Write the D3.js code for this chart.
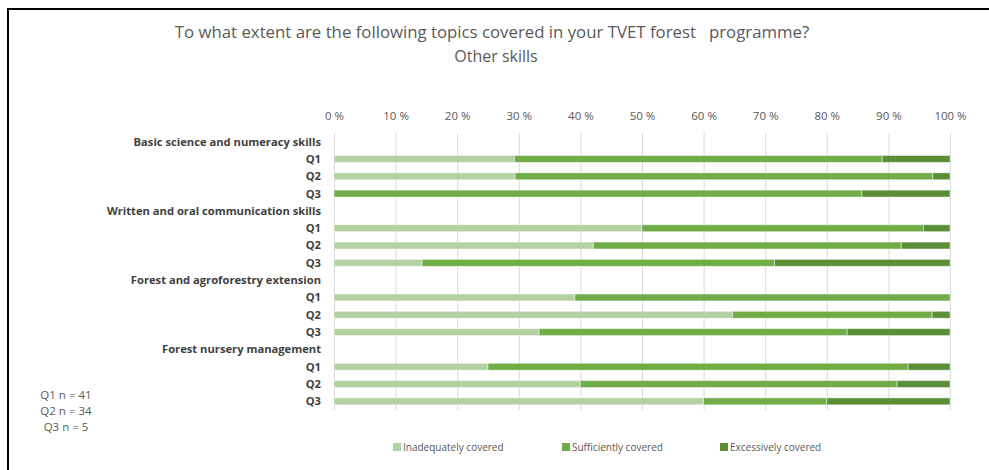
<!DOCTYPE html>
<html lang="en">
<head>
  <meta charset="UTF-8">
  <title>TVET forest programme - Other skills</title>
  <style>
    * { box-sizing: border-box; margin: 0; padding: 0; }
    body { width: 989px; height: 470px; background: #fff; overflow: hidden; font-family: "Open Sans", sans-serif; }
    svg { display: block; }
    .tick line { stroke: #d9d9d9; }
    .domain { display: none; }
  </style>
</head>
<body>
  <svg></svg>
  <script src="https://d3js.org/d3.v7.min.js"></script>
  <script>
    const topics = [
      'Basic science and numeracy skills',
      'Written and oral communication skills',
      'Forest and agroforestry extension',
      'Forest nursery management'
    ];
    const groups = ['Q1', 'Q2', 'Q3'];
    const seriesNames = ['Inadequately covered', 'Sufficiently covered', 'Excessively covered'];
    const seriesColors = ['#b3d1a3', '#70ad47', '#5a8f37'];
    // percentages, one row per topic x group
    const inadequate = [29.3, 29.4, 0, 50.0, 42.1, 14.3, 39.1, 64.7, 33.3, 25.0, 40.0, 60.0];
    const sufficient = [59.7, 67.8, 85.7, 45.7, 50.0, 57.2, 60.9, 32.4, 50.0, 68.2, 51.4, 20.0];
    const excessive  = [11.0, 2.8, 14.3, 4.3, 7.9, 28.5, 0, 2.9, 16.7, 6.8, 8.6, 20.0];
    const xTicks = [0, 10, 20, 30, 40, 50, 60, 70, 80, 90, 100];
    const notes = ['Q1 n = 41', 'Q2 n = 34', 'Q3 n = 5'];

    const width = 989, height = 470;
    const svg = d3.select('svg').attr('width', width).attr('height', height);

    // outer frame (only top and left edges fall inside the picture)
    svg.append('rect')
      .attr('x', 8).attr('y', 9)
      .attr('width', 1000).attr('height', 500)
      .attr('fill', 'none')
      .attr('stroke', '#000')
      .attr('stroke-width', 2);

    svg.append('text')
      .attr('x', 492).attr('y', 38)
      .attr('text-anchor', 'middle')
      .attr('font-size', 16.8)
      .attr('fill', '#595959')
      .style('white-space', 'pre')
      .text('To what extent are the following topics covered in your TVET forest   programme?');
    svg.append('text')
      .attr('x', 496).attr('y', 62)
      .attr('text-anchor', 'middle')
      .attr('font-size', 16)
      .attr('fill', '#595959')
      .text('Other skills');

    // rows: topic header followed by its Q rows
    const rows = [];
    const data = [];
    topics.forEach((t, ti) => {
      rows.push({ key: 'h' + ti, label: t });
      groups.forEach((g, gi) => {
        const i = ti * groups.length + gi;
        const key = 'r' + i;
        rows.push({ key: key, label: g });
        data.push({ key: key, inadequate: inadequate[i], sufficient: sufficient[i], excessive: excessive[i] });
      });
    });

    const x = d3.scaleLinear().domain([0, 100]).range([334, 950]);
    const y = d3.scaleBand().domain(rows.map(r => r.key)).range([133, 410]).paddingInner(0.6).paddingOuter(0.3);

    // gridlines + top labels
    const xAxis = svg.append('g')
      .attr('transform', 'translate(0,133)')
      .call(d3.axisTop(x).tickValues(xTicks).tickFormat(d => d + ' %').tickSize(-277).tickPadding(13));
    xAxis.selectAll('.tick text')
      .attr('fill', '#595959')
      .attr('font-size', 11.5)
      .style('font-family', '"Open Sans", sans-serif');
    xAxis.selectAll('.tick line').attr('stroke', '#d9d9d9');

    // stacked bars
    const stack = d3.stack().keys(['inadequate', 'sufficient', 'excessive']);
    const layers = stack(data);
    svg.append('g').selectAll('g')
      .data(layers)
      .join('g')
      .attr('fill', (d, i) => seriesColors[i])
      .selectAll('rect')
      .data(d => d.map(v => ({ v: v, key: v.data.key })))
      .join('rect')
      .attr('x', d => x(d.v[0]))
      .attr('y', d => y(d.key))
      .attr('width', d => x(d.v[1]) - x(d.v[0]))
      .attr('height', y.bandwidth())
      .attr('stroke', 'rgba(255,255,255,0.45)')
      .attr('stroke-width', 1);

    // row labels
    const yCenter = k => y(k) + y.bandwidth() / 2;
    svg.append('g').selectAll('text')
      .data(rows)
      .join('text')
      .attr('x', 321)
      .attr('y', d => yCenter(d.key))
      .attr('dy', '0.35em')
      .attr('text-anchor', 'end')
      .attr('font-size', 11.2)
      .attr('font-weight', 'bold')
      .attr('fill', '#404040')
      .style('font-family', '"Open Sans", sans-serif')
      .text(d => d.label);

    // sample size notes
    svg.append('g').selectAll('text')
      .data(notes)
      .join('text')
      .attr('x', 66)
      .attr('y', (d, i) => 399 + i * 16)
      .attr('text-anchor', 'middle')
      .attr('font-size', 11.5)
      .attr('fill', '#595959')
      .text(d => d);

    // legend
    const legendX = [393, 562, 720];
    const legend = svg.append('g').selectAll('g')
      .data(seriesNames)
      .join('g')
      .attr('transform', (d, i) => 'translate(' + legendX[i] + ',443)');
    legend.append('rect')
      .attr('width', 8).attr('height', 8)
      .attr('fill', (d, i) => seriesColors[i]);
    legend.append('text')
      .attr('x', 10).attr('y', 8)
      .attr('font-size', 10)
      .attr('fill', '#595959')
      .text(d => d);
  </script>
</body>
</html>
